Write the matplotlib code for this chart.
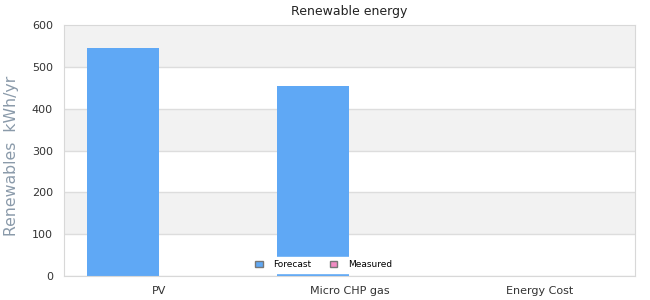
import numpy as np
import matplotlib.pyplot as plt
from matplotlib.patches import Patch

categories = ['PV', 'Micro CHP gas', 'Energy Cost']
forecast = [545, 455, 0]
measured = [0, 0, 0]

fig = plt.figure(figsize=(6.5, 3), dpi=100)
ax = fig.add_axes([0.0985, 0.08, 0.878, 0.836])

# alternating bands
for lo in range(0, 600, 100):
    if (lo // 100) % 2 == 1:
        ax.axhspan(lo, lo + 100, color='#f2f2f2', zorder=0, lw=0)
    ax.axhline(lo, color='#dddddd', lw=1, zorder=1)

x = np.arange(len(categories))
w = 0.38
ax.bar(x - w / 2, forecast, w, color='#5fa8f5', zorder=2, label='Forecast')
ax.bar(x + w / 2, measured, w, color='#f28cc4', zorder=2, label='Measured')

ax.set_xlim(-0.5, 2.5)
ax.set_ylim(0, 600)
ax.set_yticks(range(0, 601, 100))
ax.set_xticks(x)
ax.set_xticklabels(categories)
ax.tick_params(length=0, labelsize=8, colors='#333333', pad=7)
ax.tick_params(axis='y', pad=8)
for s in ax.spines.values():
    s.set_color('#d8d8d8')

ax.set_title('Renewable energy', fontsize=9, color='#222222', pad=7)
ax.set_ylabel('Renewables  kWh/yr', fontsize=11.3, color='#8a9aaa')
ax.yaxis.set_label_coords(-0.079, 0.48)

handles = [Patch(facecolor='#5fa8f5', edgecolor='#777777', label='Forecast'),
           Patch(facecolor='#f28cc4', edgecolor='#777777', label='Measured')]
leg = ax.legend(handles=handles, loc='lower center', ncol=2, fontsize=6.5,
                frameon=True, framealpha=1, edgecolor='white', fancybox=False,
                handlelength=0.8, handleheight=0.8, columnspacing=2.0,
                handletextpad=1.2, bbox_to_anchor=(0.455, -0.005),
                borderpad=0.4)
leg.set_zorder(5)

fig.savefig('out.png', dpi=100)
